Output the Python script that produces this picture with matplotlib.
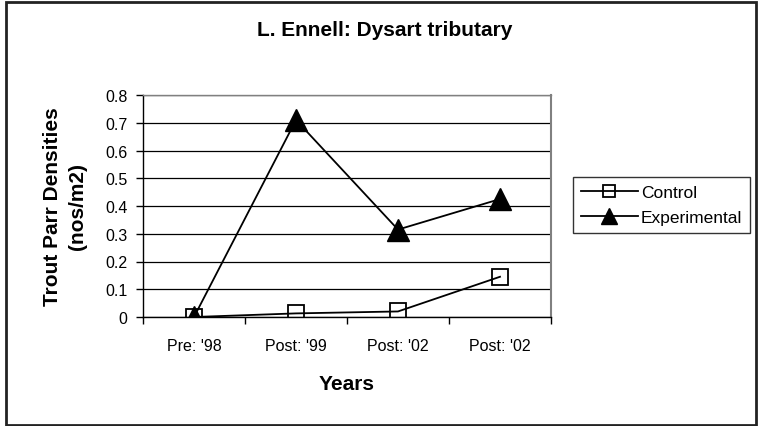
import matplotlib
matplotlib.use('Agg')
import matplotlib.pyplot as plt
from matplotlib.patches import Rectangle

plt.rcParams['font.family'] = ['Liberation Sans', 'DejaVu Sans']

categories = ["Pre: '98", "Post: '99", "Post: '02", "Post: '02"]
control = [0.0, 0.013, 0.02, 0.145]
experimental = [0.0, 0.71, 0.315, 0.425]
y_ticks = [0, 0.1, 0.2, 0.3, 0.4, 0.5, 0.6, 0.7, 0.8]
y_tick_labels = ['0', '0.1', '0.2', '0.3', '0.4', '0.5', '0.6', '0.7', '0.8']

fig = plt.figure(figsize=(7.58, 4.27), dpi=100)
# outer chart border
fig.patches.append(Rectangle((6 / 758, 1 / 427), 750 / 758, 423 / 427,
                             transform=fig.transFigure, fill=False,
                             edgecolor='#222222', linewidth=2))

ax = fig.add_axes([143 / 758, 109 / 427, 408 / 758, 222 / 427])
x = range(len(categories))

ax.plot(x, control, color='black', linewidth=1.3, marker='s',
        markersize=11, markerfacecolor='none', markeredgecolor='black',
        markeredgewidth=1.3, label='Control', zorder=4)
ax.plot(x, experimental, color='black', linewidth=1.3, marker='^',
        markersize=16, markerfacecolor='black', markeredgecolor='black',
        label='Experimental', zorder=3)

ax.set_xlim(-0.5, len(categories) - 0.5)
ax.set_ylim(0, 0.8)
ax.set_yticks(y_ticks)
ax.set_yticklabels(y_tick_labels, fontsize=11.5)
ax.yaxis.grid(True, color='black', linewidth=0.9)
ax.set_axisbelow(True)

# ticks between categories, labels centred under each one
ax.set_xticks([i + 0.5 for i in range(-1, len(categories))])
ax.set_xticklabels([])
ax.set_xticks(list(x), minor=True)
ax.set_xticklabels(categories, minor=True, fontsize=11.5)
ax.tick_params(axis='x', which='major', length=5, width=1, direction='out')
ax.tick_params(axis='x', which='minor', length=0, pad=15)
ax.tick_params(axis='y', length=5, width=1, direction='out', pad=6)

for s in ['left', 'bottom']:
    ax.spines[s].set_color('black')
    ax.spines[s].set_linewidth(1)
ax.spines['right'].set_color('#808080')
ax.spines['right'].set_linewidth(1.5)
ax.spines['top'].set_color('#808080')
ax.spines['top'].set_linewidth(1)

ax.set_xlabel('Years', fontsize=15, fontweight='bold', labelpad=15)
ax.set_ylabel('Trout Parr Densities\n(nos/m2)', fontsize=15,
              fontweight='bold', labelpad=13, linespacing=1.45)
fig.text(385 / 758, 1 - 30 / 427, 'L. Ennell: Dysart tributary',
         fontsize=15, fontweight='bold', ha='center', va='center')

leg = ax.legend(loc='center left', bbox_to_anchor=(573 / 758, 1 - 206 / 427),
                bbox_transform=fig.transFigure, fontsize=12.5, frameon=True,
                fancybox=False, edgecolor='black', handlelength=3.3,
                handletextpad=0.15, borderpad=0.45, labelspacing=0.55,
                borderaxespad=0)
leg.get_frame().set_linewidth(1)
leg.legend_handles[0].set_markersize(8)
leg.legend_handles[1].set_markersize(11)

fig.savefig('out.png', dpi=100)
